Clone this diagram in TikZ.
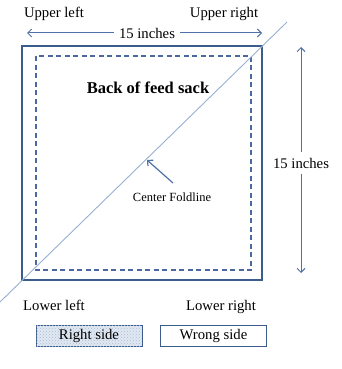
\documentclass[tikz,border=0pt]{standalone}
\usepackage{fontspec}
\setmainfont{Liberation Serif}
\usetikzlibrary{patterns,arrows.meta}
\definecolor{frame}{RGB}{60,92,140}
\definecolor{dashc}{RGB}{75,105,160}
\definecolor{arrowc}{RGB}{79,113,168}
\definecolor{diag}{RGB}{150,175,210}
\definecolor{dotfill}{RGB}{225,232,242}
\definecolor{dotc}{RGB}{170,190,215}
\tikzset{
  lbl/.style={inner sep=0pt, font=\fontsize{14.7}{16}\selectfont},
  small/.style={inner sep=0pt, font=\fontsize{12.5}{14}\selectfont},
  dimarrow/.style={draw=arrowc, line width=1pt, -{Straight Barb[length=4pt,width=8pt]}},
  keybox/.style={draw=frame, line width=0.9pt, minimum width=106pt, minimum height=21pt, inner sep=0pt, font=\fontsize{14.7}{16}\selectfont}
}
\begin{document}
\begin{tikzpicture}[x=1pt,y=-1pt]
\useasboundingbox (0,0) rectangle (342,369);
% outer square and inner dashed
\draw[frame, line width=1.3pt] (22,46) rectangle (262,280);
\draw[dashc, line width=1.2pt, dash pattern=on 5pt off 3.5pt] (36,56) rectangle (251,270);
% diagonal fold line
\coordinate (dA) at (0,302);
\coordinate (dB) at (287,22);
\draw[diag, line width=0.9pt] (dA) -- (dB);
% top labels
\node[lbl, anchor=base] (ul) at (54,18) {Upper left};
\node[lbl, anchor=base] (ur) at (224,18) {Upper right};
\node[lbl, fill=white, inner xsep=5pt] (topdim) at (147,33) {15 inches};
\coordinate (tl) at (27,33);
\coordinate (tr) at (262,33);
\draw[dimarrow] (topdim.west) -- (tl);
\draw[dimarrow] (topdim.east) -- (tr);
% right dimension
\node[lbl, fill=white, inner ysep=6pt] (rdim) at (301,163) {15 inches};
\coordinate (rt) at (301,47);
\coordinate (rb) at (301,273);
\draw[dimarrow] (rdim.north) -- (rt);
\draw[dimarrow] (rdim.south) -- (rb);
% title
\node[inner sep=0pt, font=\fontsize{16.5}{18}\bfseries] (title) at (148,88) {Back of feed sack};
% center foldline
\node[small] (cf) at (172,197) {Center Foldline};
\coordinate (cft) at (147,160);
\draw[arrowc, line width=1.2pt, -{Straight Barb[length=4pt,width=8pt]}] (173,183) -- (cft);
% lower labels
\node[lbl, anchor=base] (ll) at (54,310) {Lower left};
\node[lbl, anchor=base] (lr) at (221,310) {Lower right};
% key boxes
\node[keybox, fill=dotfill, postaction={pattern=crosshatch dots, pattern color=dotc}] (rs) at (89,336) {Right side};
\node[keybox, fill=white] (ws) at (213.5,335.5) {Wrong side};
\end{tikzpicture}
\end{document}
